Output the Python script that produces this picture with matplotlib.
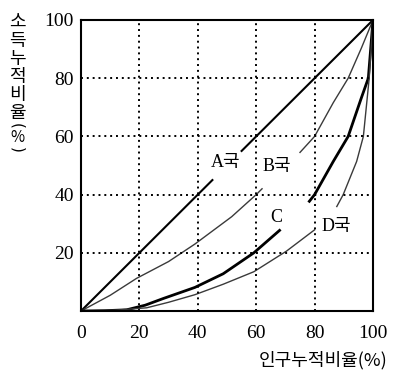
import numpy as np
import matplotlib.pyplot as plt

plt.rcParams['font.family'] = ['Liberation Serif', 'Noto Sans CJK KR']

nan = np.nan

# Lorenz curves (x: population cumulative %, y: income cumulative %); nan = gap for label
a_x = [0, 45, nan, 55, 100]
a_y = [0, 45, nan, 55, 100]

b_x = [0, 10, 19, 30, 39, 51.6, 60, 62, nan, 75, 80, 86.4, 91.5, 96, 100]
b_y = [0, 5.4, 11.2, 17, 23, 32.4, 40, 42, nan, 54.5, 60, 71.6, 80, 90.3, 100]

c_x = [0, 8, 15.6, 22, 28.2, 39, 48.7, 59.2, 68, nan, 78.2, 80, 86.4, 91.5, 96, 98.4, 100]
c_y = [0, 0.1, 0.4, 2, 4.3, 8.1, 12.8, 20, 27.7, nan, 37.7, 40, 51.4, 60, 73.2, 80, 100]

d_x = [0, 12, 22.5, 30, 39, 48.7, 59.2, 70.4, 80, nan, 87.6, 89.8, 94.4, 96.7, 98.7, 100]
d_y = [0, 0.3, 1.1, 3, 5.6, 9.2, 13.5, 20.6, 27.9, nan, 35.9, 40, 51.4, 60, 80, 100]

labels = ['A국', 'B국', 'C', 'D국']
label_x = [49.5, 67, 67, 87.5]
label_y = [51, 49.5, 32, 29]

ticks = [0, 20, 40, 60, 80, 100]

fig = plt.figure(figsize=(3.99, 3.76), dpi=100)
ax = fig.add_axes([81/399, 1 - 311/376, 292/399, 291/376])

ax.plot(a_x, a_y, color='black', lw=1.5)
ax.plot(b_x, b_y, color='#3a3a3a', lw=1.0)
ax.plot(c_x, c_y, color='black', lw=2.0)
ax.plot(d_x, d_y, color='#3a3a3a', lw=1.0)

for t, x, y in zip(labels, label_x, label_y):
    ax.text(x, y, t, fontsize=13, ha='center', va='center')

ax.set_xlim(0, 100)
ax.set_ylim(0, 100)
ax.set_xticks(ticks)
ax.set_yticks(ticks)
ax.set_yticklabels(['', '20', '40', '60', '80', '100'])
ax.tick_params(length=0, labelsize=14)
ax.tick_params(axis='x', pad=10)
ax.tick_params(axis='y', pad=5)
for v in ticks[1:-1]:
    ax.axhline(v, color='black', lw=1.4, ls=(0, (1, 2)))
    ax.axvline(v, color='black', lw=1.4, ls=(0, (1, 2)))
for s in ax.spines.values():
    s.set_linewidth(1.5)

fig.text(323/399, 1 - 360/376, '인구누적비율(%)', fontsize=13,
         family='Noto Sans CJK KR', ha='center', va='center')

# vertical y label, characters stacked upright, brackets turned
ylab = ['소', '득', '누', '적', '비', '율', '(', '%', ')']
ypix = [23, 41, 59, 77, 95, 113, 126, 138, 150]
for ch, yp in zip(ylab, ypix):
    rot = -90 if ch in '()' else 0
    size = 11 if ch in '()%' else 13
    fig.text(17/399, 1 - yp/376, ch, fontsize=size, family='DejaVu Sans' if ch in '()' else 'Noto Sans CJK KR',
             ha='center', va='center', rotation=rot)

fig.savefig('out.png', dpi=100)
